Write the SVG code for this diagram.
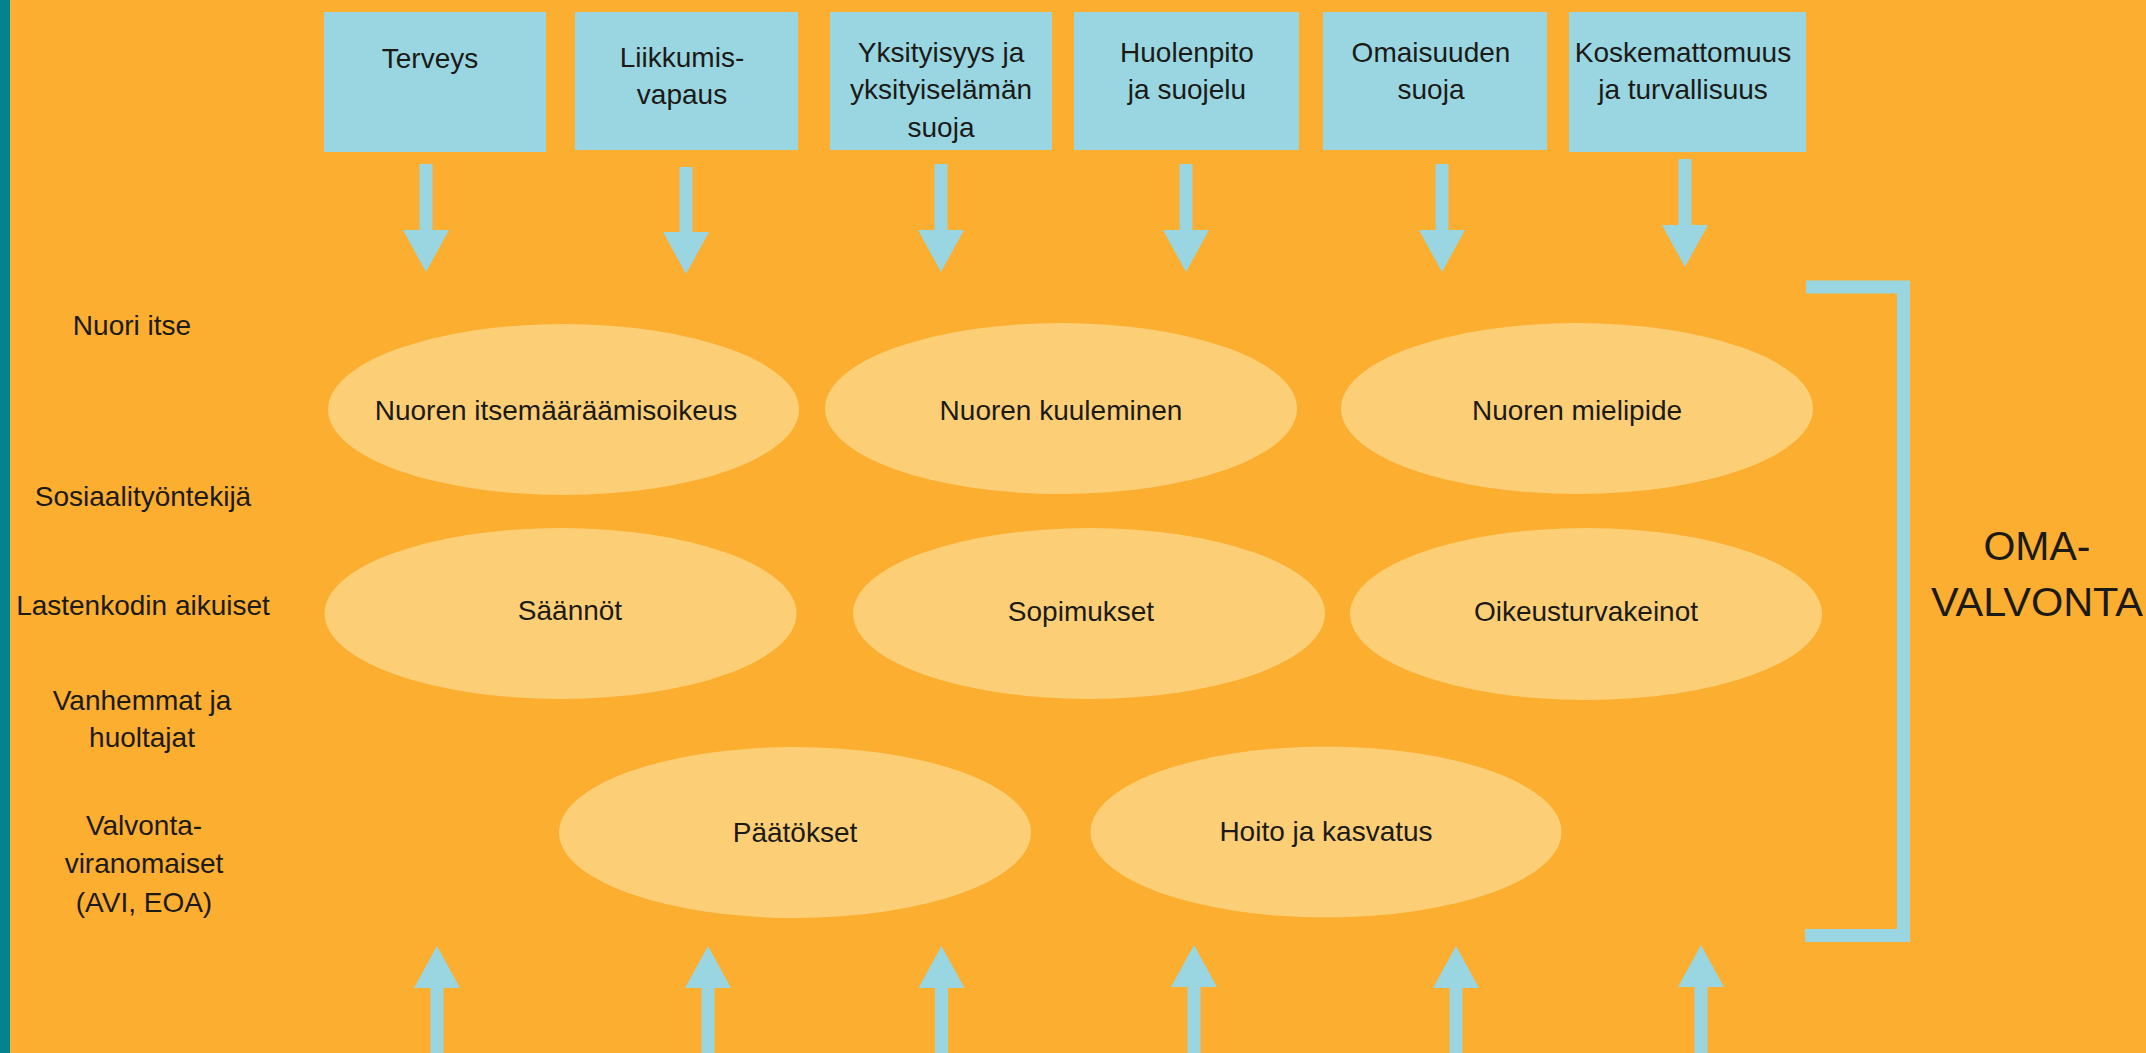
<svg xmlns="http://www.w3.org/2000/svg" width="2146" height="1053" viewBox="0 0 2146 1053">
<style>
text{font-family:"Liberation Sans",Arial,sans-serif;font-size:28px;fill:#1b1a17;text-anchor:middle}
.box{fill:#99d6e1}
.ell{fill:#fccf76}
.big{font-size:41px}
.conn line{stroke:#99d6e1;stroke-width:13;stroke-linecap:butt}
.brk{fill:none;stroke:#99d6e1;stroke-width:13;stroke-linejoin:miter}
</style>
<defs>
<marker id="ah" markerUnits="userSpaceOnUse" markerWidth="42" markerHeight="46" viewBox="0 0 42 46" refX="0" refY="23" orient="auto">
<path d="M0,0 L42,23 L0,46 Z" fill="#99d6e1"/>
</marker>
</defs>
<rect x="0" y="0" width="2146" height="1053" fill="#fbae30"/>
<rect x="0" y="0" width="10" height="1053" fill="#00838f"/>

<g id="box-terveys"><rect class="box" x="324" y="12" width="222" height="140"/><text x="430" y="68">Terveys</text></g>
<g id="box-liikkumis"><rect class="box" x="575" y="12" width="223" height="138"/><text x="682" y="67">Liikkumis-</text><text x="682" y="104">vapaus</text></g>
<g id="box-yksityisyys"><rect class="box" x="830" y="12" width="222" height="138"/><text x="941" y="62">Yksityisyys ja</text><text x="941" y="99">yksityiselämän</text><text x="941" y="137">suoja</text></g>
<g id="box-huolenpito"><rect class="box" x="1074" y="12" width="225" height="138"/><text x="1187" y="62">Huolenpito</text><text x="1187" y="99">ja suojelu</text></g>
<g id="box-omaisuus"><rect class="box" x="1323" y="12" width="224" height="138"/><text x="1431" y="62">Omaisuuden</text><text x="1431" y="99">suoja</text></g>
<g id="box-koskemattomuus"><rect class="box" x="1569" y="12" width="237" height="140"/><text x="1683" y="62">Koskemattomuus</text><text x="1683" y="99">ja turvallisuus</text></g>

<g id="lbl-nuori"><text x="132" y="335">Nuori itse</text></g>
<g id="lbl-sosiaali"><text x="143" y="506">Sosiaalityöntekijä</text></g>
<g id="lbl-lastenkoti"><text x="143" y="615">Lastenkodin aikuiset</text></g>
<g id="lbl-vanhemmat"><text x="142" y="710">Vanhemmat ja</text><text x="142" y="747">huoltajat</text></g>
<g id="lbl-valvonta"><text x="144" y="835">Valvonta-</text><text x="144" y="873">viranomaiset</text><text x="144" y="912">(AVI, EOA)</text></g>

<g id="ell-itsemaaraamis"><ellipse class="ell" cx="563.5" cy="409.5" rx="235.5" ry="85.5"/><text x="556" y="420">Nuoren itsemääräämisoikeus</text></g>
<g id="ell-kuuleminen"><ellipse class="ell" cx="1061" cy="408.5" rx="236" ry="85.5"/><text x="1061" y="420">Nuoren kuuleminen</text></g>
<g id="ell-mielipide"><ellipse class="ell" cx="1577" cy="408.5" rx="236" ry="85.5"/><text x="1577" y="420">Nuoren mielipide</text></g>
<g id="ell-saannot"><ellipse class="ell" cx="560.5" cy="613.5" rx="236" ry="85.5"/><text x="570" y="620">Säännöt</text></g>
<g id="ell-sopimukset"><ellipse class="ell" cx="1089" cy="613.5" rx="236" ry="85.5"/><text x="1081" y="621">Sopimukset</text></g>
<g id="ell-oikeusturva"><ellipse class="ell" cx="1586" cy="614" rx="236" ry="86"/><text x="1586" y="621">Oikeusturvakeinot</text></g>
<g id="ell-paatokset"><ellipse class="ell" cx="795" cy="832.5" rx="236" ry="85.5"/><text x="795" y="842">Päätökset</text></g>
<g id="ell-hoito"><ellipse class="ell" cx="1326" cy="832" rx="235.5" ry="85.5"/><text x="1326" y="841">Hoito ja kasvatus</text></g>

<g id="omavalvonta">
<path class="brk" d="M1806,287 H1903.5 V935.5 H1805"/>
<text class="big" x="2037" y="560">OMA-</text>
<text class="big" x="2037" y="616" textLength="212" lengthAdjust="spacingAndGlyphs">VALVONTA</text>
</g>

<g id="connectors" class="conn">
<line x1="426" y1="164" x2="426" y2="230" marker-end="url(#ah)"/>
<line x1="686" y1="167" x2="686" y2="232" marker-end="url(#ah)"/>
<line x1="941" y1="164" x2="941" y2="230" marker-end="url(#ah)"/>
<line x1="1186" y1="164" x2="1186" y2="230" marker-end="url(#ah)"/>
<line x1="1442" y1="164" x2="1442" y2="230" marker-end="url(#ah)"/>
<line x1="1685" y1="159" x2="1685" y2="225" marker-end="url(#ah)"/>
<line x1="437" y1="1053" x2="437" y2="988" marker-end="url(#ah)"/>
<line x1="708" y1="1053" x2="708" y2="988" marker-end="url(#ah)"/>
<line x1="941.5" y1="1053" x2="941.5" y2="988" marker-end="url(#ah)"/>
<line x1="1194" y1="1053" x2="1194" y2="987" marker-end="url(#ah)"/>
<line x1="1456" y1="1053" x2="1456" y2="988" marker-end="url(#ah)"/>
<line x1="1701" y1="1053" x2="1701" y2="987" marker-end="url(#ah)"/>
</g>
</svg>
